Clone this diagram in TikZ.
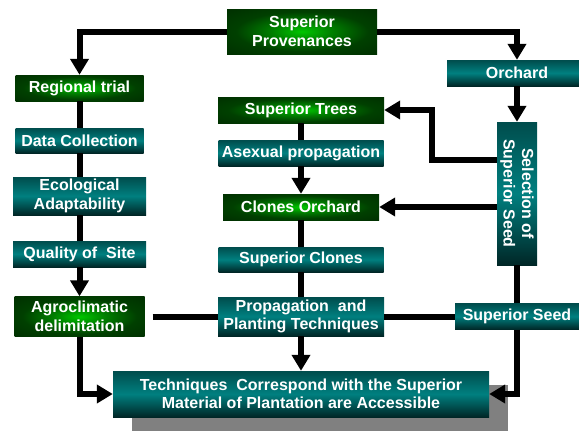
\documentclass[tikz,border=0pt]{standalone}
\usepackage{fontspec}
\setmainfont{Liberation Sans}
\usetikzlibrary{shapes, arrows.meta, shadows}
\pgfdeclareradialshading{greenglow}{\pgfpoint{0bp}{0bp}}{color(0bp)=(green!78!black); color(10bp)=(green!50!black); color(22bp)=(green!25!black); color(50bp)=(green!12!black)}
\tikzstyle{greenbox} =
        [
                rectangle,
                shade,
                shading = greenglow,
                text = white,
                font = \fontsize{16}{18.5}\selectfont\bfseries,
                align = center,
                inner sep = 0pt,
                minimum height = 26pt
        ]
\tikzstyle{tealbox} =
        [
                rectangle,
                top color = teal!60!black,
                bottom color = teal!30!black,
                middle color = teal,
                text = white,
                font = \fontsize{16}{18.5}\selectfont\bfseries,
                align = center,
                inner sep = 0pt,
                minimum height = 26pt
        ]
\tikzstyle{shadowed} =
        [
                general shadow = {fill = gray, shadow xshift = 19pt, shadow yshift = -14pt}
        ]
\tikzstyle{line} =
        [
                draw,
                line width = 6pt,
                -{Triangle[width = 18pt, length = 16pt]}
        ]
\tikzstyle{link} =
        [
                draw,
                line width = 6pt
        ]

\begin{document}
\begin{tikzpicture}[x = 1pt, y = -1pt, node distance = 50pt]
        \useasboundingbox (0, 0) rectangle (579, 431);

        \node [greenbox, minimum width = 150pt, minimum height = 45pt] (provenances) at (302, 31.5) {Superior\\Provenances};
        % left column
        \node [greenbox, minimum width = 128pt] (regional) at (79.5, 88) {Regional trial};
        \node [tealbox, below of = regional, node distance = 52.5pt, minimum width = 128pt, minimum height = 25pt] (collection) {Data Collection};
        \node [tealbox, below of = collection, node distance = 55.5pt, minimum width = 133pt, minimum height = 38pt] (adaptability) {Ecological\\Adaptability};
        \node [tealbox, below of = adaptability, node distance = 58pt, minimum width = 133pt] (quality) {Quality of~ Site};
        \node [greenbox, below of = quality, node distance = 62.5pt, minimum width = 130pt, minimum height = 40pt] (agroclimatic) {Agroclimatic\\delimitation};
        % middle column
        \node [greenbox, minimum width = 166pt] (trees) at (301, 110) {Superior Trees};
        \node [tealbox, below of = trees, node distance = 43pt, minimum width = 165pt] (asexual) {Asexual propagation};
        \node [greenbox, below of = asexual, node distance = 54pt, minimum width = 156pt] (clonesorchard) {Clones Orchard};
        \node [tealbox, below of = clonesorchard, node distance = 52.5pt, minimum width = 165pt, minimum height = 25pt] (clones) {Superior Clones};
        \node [tealbox, below of = clones, node distance = 57pt, minimum width = 166pt, minimum height = 39pt] (propagation) {Propagation~ and\\Planting Techniques};
        \node [tealbox, shadowed, below of = propagation, node distance = 77.5pt, minimum width = 376pt, minimum height = 46pt] (accessible) {Techniques~ Correspond with the Superior\\Material of Plantation are Accessible};
        % right column
        \node [tealbox, minimum width = 140pt] (orchard) at (517, 73) {Orchard};
        \node [tealbox, rotate = -90, minimum width = 143pt, minimum height = 40pt] (selection) at (517, 193.5) {Selection of\\Superior Seed};
        \node [tealbox, minimum width = 124pt] (seed) at (517, 316.5) {Superior Seed};

        \path [line] (provenances) -| (regional);
        \path [line] (provenances) -| (orchard);
        \path [link] (regional) -- (collection);
        \path [link] (collection) -- (adaptability);
        \path [link] (adaptability) -- (quality);
        \path [line] (quality) -- (agroclimatic);
        \path [line] (agroclimatic) |- (accessible);
        \path [link, shorten <= 8pt] (agroclimatic) -- (propagation);
        \path [link] (propagation) -- (seed);
        \path [line] (propagation) -- (accessible);
        \path [line] (seed) |- (accessible);
        \path [link] (trees) -- (asexual);
        \path [line] (asexual) -- (clonesorchard);
        \path [link] (clonesorchard) -- (clones);
        \path [link] (clones) -- (propagation);
        \path [line] (orchard) -- (selection);
        \path [link] (selection) -- (seed);
        \path [line] (selection.south |- clonesorchard) -- (clonesorchard);
        \path [line] ([yshift = 33.5pt]selection.south) -- ++(-65, 0) |- (trees);
\end{tikzpicture}
\end{document}
